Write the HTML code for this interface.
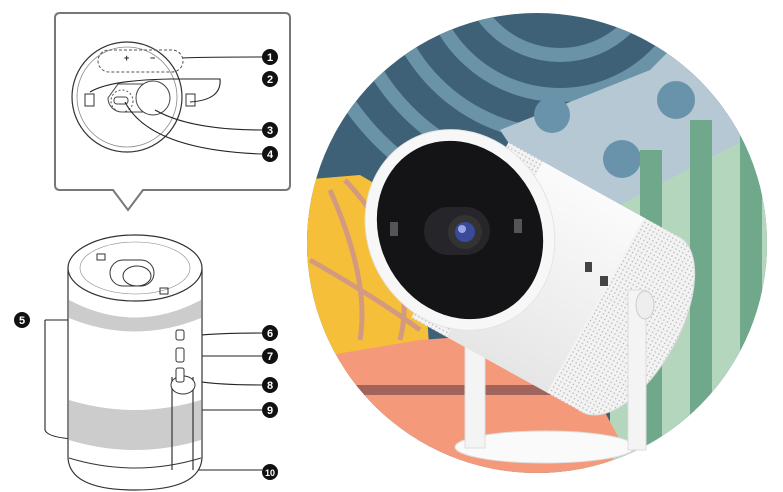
<!DOCTYPE html>
<html><head><meta charset="utf-8"><style>
html,body{margin:0;padding:0;background:#fff;width:783px;height:492px;overflow:hidden}
svg{display:block}
text{font-family:"Liberation Sans",Arial,sans-serif;font-weight:bold;fill:#fff;font-size:11px}
</style></head><body>
<svg width="783" height="492" viewBox="0 0 783 492">
<defs>
<clipPath id="cc"><circle cx="537" cy="243" r="230"/></clipPath>
<pattern id="mesh" width="4" height="4" patternUnits="userSpaceOnUse"><rect width="4" height="4" fill="#f3f3f3"/><circle cx="2" cy="2" r="0.7" fill="#b0b0b0"/></pattern>
<linearGradient id="body" x1="0" y1="0" x2="0" y2="1"><stop offset="0" stop-color="#fbfbfb"/><stop offset="1" stop-color="#e6e6e6"/></linearGradient>
</defs>
<g clip-path="url(#cc)">
<rect x="300" y="0" width="483" height="492" fill="#3f6178"/>
<g fill="none" stroke="#6b93a8" stroke-width="14">
<circle cx="560" cy="-40" r="95"/><circle cx="560" cy="-40" r="135"/><circle cx="560" cy="-40" r="175"/><circle cx="560" cy="-40" r="215"/><circle cx="560" cy="-40" r="255"/>
</g>
<polygon points="500,130 650,70 680,40 783,40 783,260 620,230 520,160" fill="#b5c8d3"/>
<circle cx="552" cy="115" r="18" fill="#6993aa"/><circle cx="676" cy="100" r="19" fill="#6993aa"/><circle cx="622" cy="159" r="19" fill="#6993aa"/>
<polygon points="610,210 783,120 783,492 610,492" fill="#b3d6bd"/>
<rect x="640" y="150" width="22" height="342" fill="#6fa88a"/><rect x="690" y="120" width="22" height="372" fill="#6fa88a"/><rect x="740" y="100" width="22" height="392" fill="#6fa88a"/>
<polygon points="300,180 360,175 420,210 430,360 300,380" fill="#f5bf3a"/>
<g fill="none" stroke="#d49a80" stroke-width="5"><path d="M330,190 Q370,280 360,340"/><path d="M345,180 Q420,260 400,340"/><path d="M310,260 Q380,300 420,330"/></g>
<polygon points="300,360 420,340 560,330 620,440 600,492 300,492" fill="#f49a7a"/>
<rect x="300" y="385" width="300" height="10" fill="#a0645c"/>
</g>
<!-- projector -->
<g>
<ellipse cx="545" cy="447" rx="90" ry="16" fill="#fafafa" stroke="#ddd"/>
<rect x="465" y="330" width="20" height="118" fill="#f4f4f4" stroke="#ddd"/>
<g transform="rotate(29 460 230)">
<ellipse cx="655" cy="230" rx="48" ry="100" fill="url(#mesh)" stroke="#ddd"/>
<rect x="460" y="130" width="195" height="200" fill="url(#body)"/>
<rect x="460" y="130" width="40" height="200" fill="url(#mesh)"/>
<rect x="615" y="130" width="40" height="200" fill="url(#mesh)"/>
</g>
<rect x="628" y="290" width="18" height="160" fill="#f4f4f4" stroke="#ddd"/>
<ellipse cx="645" cy="305" rx="9" ry="14" fill="#eee" stroke="#ccc"/>
<rect x="585" y="262" width="7" height="10" fill="#444"/><rect x="600" y="276" width="8" height="10" fill="#444"/>
<ellipse cx="460" cy="230" rx="92" ry="103" transform="rotate(-30 460 230)" fill="#f7f7f7" stroke="#e4e4e4"/>
<ellipse cx="460" cy="230" rx="80" ry="92" transform="rotate(-30 460 230)" fill="#141417"/>
<rect x="424" y="207" width="66" height="48" rx="24" fill="#26262a"/>
<circle cx="465" cy="232" r="17" fill="#333"/><circle cx="465" cy="232" r="10" fill="#3a4a9a"/><circle cx="462" cy="229" r="4" fill="#9aa6e0"/>
<rect x="390" y="222" width="8" height="14" fill="#555"/><rect x="514" y="219" width="8" height="14" fill="#555"/>
</g>
<!-- callout box -->
<path d="M60,13 H285 Q290,13 290,18 V185 Q290,190 285,190 H143 L128,210 L113,190 H60 Q55,190 55,185 V18 Q55,13 60,13 Z" fill="#fff" stroke="#777" stroke-width="2"/>
<circle cx="127" cy="97" r="55" fill="#fff" stroke="#333" stroke-width="1.2"/>
<circle cx="127" cy="97" r="50" fill="none" stroke="#888" stroke-width="0.8"/>
<rect x="98" y="50" width="85" height="22" rx="11" fill="none" stroke="#555" stroke-dasharray="3,2"/>
<text x="124" y="61" style="fill:#222;font-size:9px">+</text><text x="150" y="61" style="fill:#222;font-size:9px">−</text>
<rect x="85" y="94" width="9" height="12" fill="none" stroke="#333"/><rect x="186" y="94" width="9" height="12" fill="none" stroke="#333"/>
<path d="M118,84 H153 A14,14 0 0 1 167,98 A14,14 0 0 1 153,112 H122 A14,14 0 0 1 108,98 Z" fill="none" stroke="#444"/>
<circle cx="153" cy="98" r="17" fill="#fff" stroke="#444"/>
<circle cx="122" cy="101" r="11" fill="none" stroke="#555" stroke-dasharray="2,2"/>
<rect x="114" y="97" width="14" height="7" rx="3" fill="none" stroke="#444"/>
<g fill="none" stroke="#222" stroke-width="1.1">
<path d="M183,58 Q200,57 262,57"/><path d="M90,92 Q110,80 170,79 L220,79 Q222,100 190,102"/>
<path d="M155,110 Q190,130 262,130"/><path d="M125,102 Q150,150 262,154"/>
<path d="M45,320 L100,320"/><path d="M45,320 L45,430 Q48,440 100,440"/>
<path d="M180,338 Q200,333 262,333"/><path d="M180,356 L262,356"/><path d="M180,377 Q200,385 262,385"/>
<path d="M183,410 L262,410"/><path d="M128,460 V470 H262"/>
</g>
<path d="M68,268 V458 Q70,490 135,490 Q200,490 202,458 V268" fill="#fff" stroke="#333" stroke-width="1.2"/>
<path d="M69,300 Q135,335 201,300 V318 Q135,345 69,318 Z" fill="#ccc"/>
<path d="M69,400 Q135,420 201,400 V440 Q135,460 69,440 Z" fill="#ccc"/>
<ellipse cx="135" cy="268" rx="67" ry="33" fill="#fff" stroke="#333" stroke-width="1.2"/>
<ellipse cx="135" cy="268" rx="55" ry="26" fill="none" stroke="#888" stroke-width="0.6"/>
<rect x="110" y="260" width="44" height="26" rx="13" fill="#fff" stroke="#333"/><ellipse cx="137" cy="276" rx="14" ry="10" fill="#fff" stroke="#333"/>
<rect x="97" y="254" width="8" height="6" fill="none" stroke="#333"/><rect x="160" y="288" width="8" height="6" fill="none" stroke="#333"/>
<path d="M172,377 V470" stroke="#333" stroke-width="1.2"/><path d="M193,377 V470" stroke="#333" stroke-width="1.2"/>
<ellipse cx="183" cy="385" rx="12" ry="9" fill="#fff" stroke="#333"/>
<rect x="176" y="330" width="8" height="10" rx="2" fill="#fff" stroke="#333"/><rect x="176" y="348" width="8" height="14" rx="2" fill="#fff" stroke="#333"/><rect x="176" y="368" width="8" height="14" rx="2" fill="#fff" stroke="#333"/>
<path d="M69,458 Q135,478 201,458" fill="none" stroke="#333"/>
<g>
<circle cx="270" cy="57" r="8" fill="#111"/><text x="270" y="61" text-anchor="middle">1</text>
<circle cx="270" cy="79" r="8" fill="#111"/><text x="270" y="83" text-anchor="middle">2</text>
<circle cx="270" cy="130" r="8" fill="#111"/><text x="270" y="134" text-anchor="middle">3</text>
<circle cx="270" cy="154" r="8" fill="#111"/><text x="270" y="158" text-anchor="middle">4</text>
<circle cx="22" cy="320" r="8" fill="#111"/><text x="22" y="324" text-anchor="middle">5</text>
<circle cx="270" cy="333" r="8" fill="#111"/><text x="270" y="337" text-anchor="middle">6</text>
<circle cx="270" cy="356" r="8" fill="#111"/><text x="270" y="360" text-anchor="middle">7</text>
<circle cx="270" cy="385" r="8" fill="#111"/><text x="270" y="389" text-anchor="middle">8</text>
<circle cx="270" cy="410" r="8" fill="#111"/><text x="270" y="414" text-anchor="middle">9</text>
<circle cx="270" cy="472" r="8" fill="#111"/><text x="270" y="476" text-anchor="middle" style="font-size:9px">10</text>
</g>
</svg>
</body></html>
